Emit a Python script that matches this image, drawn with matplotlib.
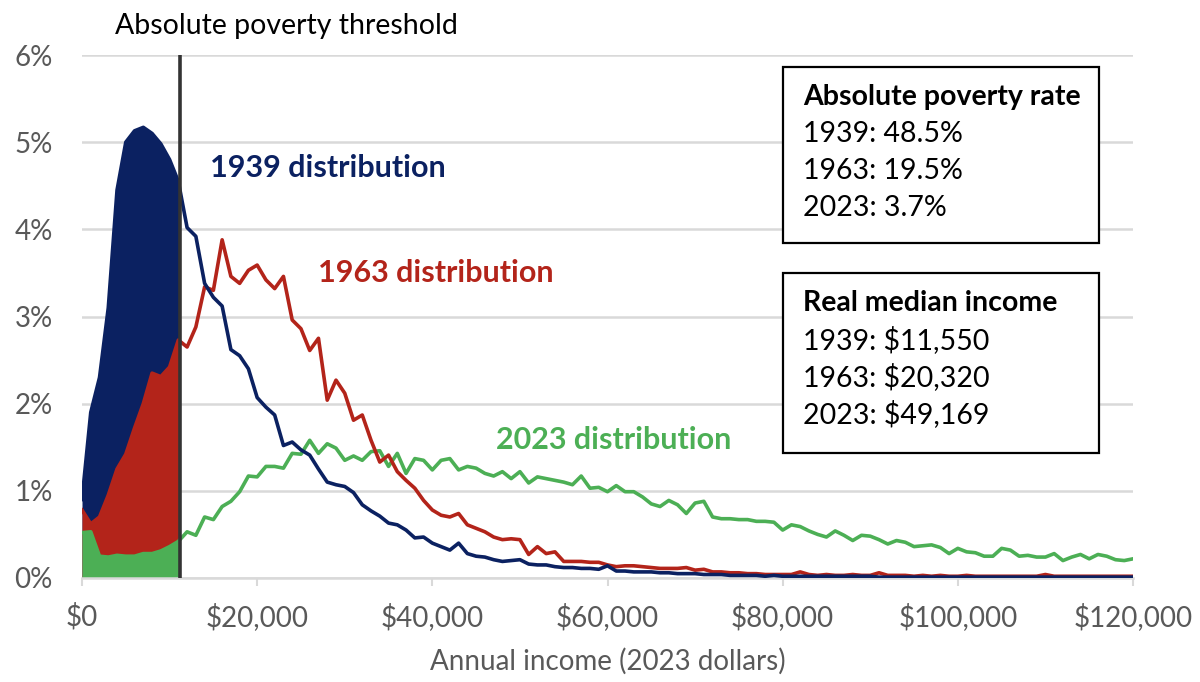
import numpy as np
import matplotlib
matplotlib.use("Agg")
import matplotlib.pyplot as plt
from matplotlib.patches import Rectangle
from matplotlib.ticker import FuncFormatter, MultipleLocator

plt.rcParams["font.family"] = ["Lato", "DejaVu Sans"]

# income bins, $1,000 steps
income = np.arange(0, 121) * 1000
threshold = 11200

# share of households per $1,000 bin (%)
dist_1939 = [
    0.90, 1.90, 2.30, 3.10, 4.45, 5.00, 5.13, 5.17, 5.10, 4.98,
    4.80, 4.55, 4.02, 3.92, 3.38, 3.22, 3.12, 2.62, 2.55, 2.40,
    2.07, 1.96, 1.87, 1.52, 1.56, 1.47, 1.41, 1.25, 1.10, 1.07,
    1.05, 0.98, 0.84, 0.77, 0.71, 0.63, 0.61, 0.55, 0.46, 0.47,
    0.40, 0.36, 0.32, 0.40, 0.28, 0.25, 0.24, 0.21, 0.19, 0.20,
    0.21, 0.16, 0.15, 0.15, 0.13, 0.12, 0.12, 0.11, 0.11, 0.10,
    0.14, 0.08, 0.08, 0.07, 0.07, 0.07, 0.06, 0.06, 0.05, 0.05,
    0.05, 0.04, 0.04, 0.04, 0.03, 0.03, 0.03, 0.03, 0.02, 0.03,
    0.02, 0.02, 0.02, 0.02, 0.02, 0.02, 0.02, 0.02, 0.02, 0.02,
    0.02, 0.01, 0.01, 0.01, 0.01, 0.01, 0.01, 0.01, 0.01, 0.01,
    0.01, 0.01, 0.01, 0.01, 0.01, 0.01, 0.01, 0.01, 0.01, 0.01,
    0.01, 0.01, 0.01, 0.01, 0.01, 0.01, 0.01, 0.01, 0.01, 0.01,
    0.01,
]
dist_1963 = [
    0.78, 0.62, 0.70, 0.95, 1.25, 1.42, 1.72, 2.00, 2.35, 2.31,
    2.42, 2.73, 2.65, 2.88, 3.34, 3.30, 3.88, 3.46, 3.38, 3.53,
    3.59, 3.42, 3.32, 3.46, 2.96, 2.86, 2.61, 2.75, 2.04, 2.27,
    2.12, 1.81, 1.87, 1.58, 1.33, 1.41, 1.22, 1.12, 1.03, 0.89,
    0.78, 0.72, 0.70, 0.74, 0.61, 0.57, 0.53, 0.47, 0.44, 0.45,
    0.44, 0.27, 0.36, 0.28, 0.30, 0.19, 0.19, 0.19, 0.18, 0.18,
    0.15, 0.13, 0.14, 0.14, 0.13, 0.12, 0.11, 0.11, 0.11, 0.12,
    0.09, 0.10, 0.07, 0.07, 0.06, 0.06, 0.05, 0.05, 0.04, 0.04,
    0.04, 0.04, 0.07, 0.04, 0.03, 0.04, 0.03, 0.03, 0.04, 0.03,
    0.03, 0.06, 0.03, 0.03, 0.03, 0.02, 0.03, 0.02, 0.03, 0.02,
    0.02, 0.03, 0.02, 0.02, 0.02, 0.02, 0.02, 0.02, 0.02, 0.02,
    0.04, 0.02, 0.02, 0.02, 0.02, 0.02, 0.02, 0.02, 0.02, 0.02,
    0.02,
]
dist_2023 = [
    0.52, 0.53, 0.25, 0.24, 0.26, 0.25, 0.25, 0.28, 0.28, 0.31,
    0.36, 0.42, 0.53, 0.49, 0.70, 0.67, 0.82, 0.88, 0.99, 1.17,
    1.16, 1.28, 1.28, 1.26, 1.43, 1.42, 1.58, 1.43, 1.54, 1.49,
    1.35, 1.40, 1.35, 1.45, 1.46, 1.28, 1.43, 1.20, 1.37, 1.35,
    1.24, 1.35, 1.37, 1.24, 1.28, 1.26, 1.20, 1.17, 1.22, 1.14,
    1.22, 1.09, 1.16, 1.14, 1.12, 1.10, 1.07, 1.17, 1.03, 1.04,
    0.99, 1.06, 0.99, 0.99, 0.93, 0.85, 0.82, 0.89, 0.84, 0.74,
    0.86, 0.88, 0.70, 0.68, 0.68, 0.67, 0.67, 0.65, 0.65, 0.64,
    0.55, 0.61, 0.59, 0.54, 0.50, 0.47, 0.54, 0.49, 0.43, 0.49,
    0.48, 0.44, 0.39, 0.43, 0.41, 0.36, 0.37, 0.38, 0.35, 0.28,
    0.34, 0.30, 0.29, 0.25, 0.25, 0.34, 0.32, 0.25, 0.26, 0.24,
    0.24, 0.28, 0.20, 0.24, 0.27, 0.22, 0.27, 0.25, 0.21, 0.20,
    0.22,
]

years = ["1939", "1963", "2023"]
poverty_rate = ["48.5%", "19.5%", "3.7%"]
median_income = ["$11,550", "$20,320", "$49,169"]

NAVY = "#0b2161"
RED = "#b3241a"
GREEN = "#4caf55"
GRID = "#d9d9d9"
TICK = "#595959"

W, H = 1200, 682
fig = plt.figure(figsize=(W / 100, H / 100), dpi=100)
ax = fig.add_axes([82 / W, 1 - 578 / H, (1133 - 82) / W, (578 - 55) / H])

series = [(dist_1939, NAVY), (dist_1963, RED), (dist_2023, GREEN)]

# shaded area below the poverty threshold
clip = Rectangle((0, 0), threshold, 10, transform=ax.transData)
for ys, c in series:
    poly = ax.fill_between(income, ys, 0, color=c, lw=0, zorder=2)
    poly.set_clip_path(clip)

for ys, c in series[::-1]:
    ax.plot(income, ys, color=c, lw=2.6, zorder=3, solid_joinstyle="round")

ax.axvline(threshold, color="#333333", lw=2.6, zorder=4)

ax.set_xlim(0, 120000)
ax.set_ylim(0, 6)
ax.yaxis.set_major_locator(MultipleLocator(1))
ax.xaxis.set_major_locator(MultipleLocator(20000))
ax.yaxis.set_major_formatter(FuncFormatter(lambda v, p: f"{v:.0f}%"))
ax.xaxis.set_major_formatter(FuncFormatter(lambda v, p: f"${v:,.0f}"))
ax.grid(axis="y", color=GRID, lw=1.8, zorder=0)
ax.set_axisbelow(True)
for s in ["top", "right", "left"]:
    ax.spines[s].set_visible(False)
ax.spines["bottom"].set_color(GRID)
ax.spines["bottom"].set_linewidth(1.8)
ax.tick_params(axis="y", length=0, pad=21, labelsize=20, labelcolor=TICK)
ax.tick_params(axis="x", length=6, width=1.5, color=GRID, pad=12,
               labelsize=20, labelcolor=TICK)
ax.set_xlabel("Annual income (2023 dollars)", fontsize=20, color=TICK, labelpad=12)

# series labels
ax.text(14600, 4.70, "1939 distribution", color=NAVY, fontsize=22,
        fontweight="bold", va="center")
ax.text(27000, 3.50, "1963 distribution", color=RED, fontsize=22,
        fontweight="bold", va="center")
ax.text(47300, 1.58, "2023 distribution", color=GREEN, fontsize=22,
        fontweight="bold", va="center")

fig.text(115 / W, 1 - 26 / H, "Absolute poverty threshold", fontsize=20.5,
         color="black", va="center")

# info boxes
def info_box(top, bottom, title, rows):
    fig.patches.append(Rectangle((783 / W, 1 - bottom / H), (1099 - 783) / W,
                                 (bottom - top) / H, transform=fig.transFigure,
                                 fc="white", ec="black", lw=1.6, zorder=5))
    y = top + 30
    fig.text(803 / W, 1 - y / H, title, fontsize=20.5, fontweight="bold",
             va="center", zorder=6)
    for r in rows:
        y += 37
        fig.text(803 / W, 1 - y / H, r, fontsize=20.5, va="center", zorder=6)

info_box(67, 243, "Absolute poverty rate",
         [f"{y}: {v}" for y, v in zip(years, poverty_rate)])
info_box(273, 453, "Real median income",
         [f"{y}: {v}" for y, v in zip(years, median_income)])

fig.savefig("out.png", dpi=100)
